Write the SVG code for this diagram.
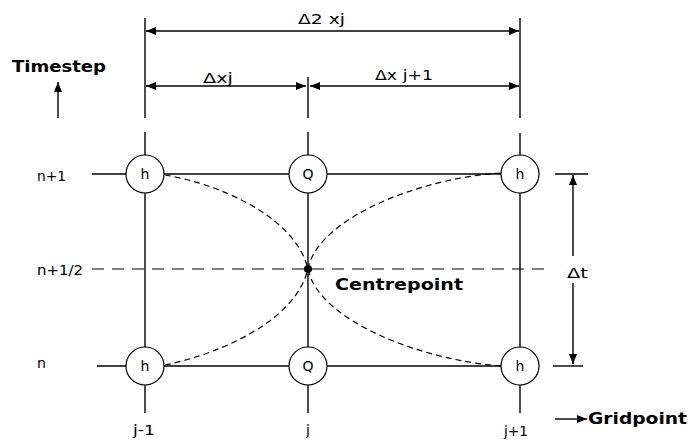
<svg xmlns="http://www.w3.org/2000/svg" width="690" height="442" viewBox="0 0 690 442">
<defs>
<marker id="ah" viewBox="0 0 10 8" refX="10" refY="4" markerWidth="10" markerHeight="8" markerUnits="userSpaceOnUse" orient="auto-start-reverse">
<path d="M0,0 L10,4 L0,8 Z" fill="#000"/>
</marker>
</defs>
<style>
.ln{stroke:#000;stroke-width:1.4;fill:none}
.ds{stroke:#000;stroke-width:1.2;fill:none;stroke-dasharray:6,4}
.dd{stroke:#000;stroke-width:1.2;fill:none;stroke-dasharray:12,8}
.nd{fill:#fff;stroke:#000;stroke-width:1.2}
.t{font-family:"DejaVu Sans",Verdana,sans-serif;font-size:14px;fill:#000}
.b{font-family:"DejaVu Sans",Verdana,sans-serif;font-size:16px;font-weight:bold;fill:#000}
.nt{font-family:"DejaVu Sans",Verdana,sans-serif;font-size:14px;fill:#000;text-anchor:middle}
</style>
<rect width="690" height="442" fill="#fff"/>
<g id="connectors">
<line class="ln" x1="145" y1="18" x2="145" y2="118"/>
<line class="ln" x1="520" y1="18" x2="520" y2="118"/>
<line class="ln" x1="308" y1="77" x2="308" y2="118"/>
<line class="ln" x1="146" y1="31" x2="519" y2="31" marker-start="url(#ah)" marker-end="url(#ah)"/>
<line class="ln" x1="146" y1="86" x2="306" y2="86" marker-start="url(#ah)" marker-end="url(#ah)"/>
<line class="ln" x1="310" y1="86" x2="519" y2="86" marker-start="url(#ah)" marker-end="url(#ah)"/>
<line class="ln" x1="58" y1="118" x2="58" y2="82" marker-end="url(#ah)"/>
<line class="ln" x1="555" y1="419" x2="587" y2="419" marker-end="url(#ah)"/>
<line class="ln" x1="145" y1="132" x2="145" y2="413"/>
<line class="ln" x1="308" y1="132" x2="308" y2="413"/>
<line class="ln" x1="520" y1="133" x2="520" y2="413"/>
<line class="ln" x1="92" y1="174" x2="520" y2="174"/>
<line class="ln" x1="97" y1="366" x2="520" y2="366"/>
<line class="ln" x1="555" y1="174" x2="588" y2="174"/>
<line class="ln" x1="553" y1="366" x2="583" y2="366"/>
<line class="dd" x1="92" y1="269" x2="545" y2="269"/>
<line class="ln" x1="573" y1="175" x2="573" y2="256" marker-start="url(#ah)"/>
<line class="ln" x1="573" y1="283" x2="573" y2="364" marker-end="url(#ah)"/>
<path class="ds" d="M165,175 C215,183 295,215 308,269 C318,320 420,360 501,366"/>
<path class="ds" d="M165,365 C215,355 295,323 308,269 C318,218 420,178 501,173"/>
</g>
<g id="centre"><circle cx="308" cy="269" r="4" fill="#000"/></g>
<g id="h-left-top"><circle class="nd" cx="145" cy="174" r="19"/><text class="nt" x="145" y="179">h</text></g>
<g id="q-top"><circle class="nd" cx="308" cy="174" r="19"/><text class="nt" x="308" y="179">Q</text></g>
<g id="h-right-top"><circle class="nd" cx="520" cy="174" r="19"/><text class="nt" x="520" y="179">h</text></g>
<g id="h-left-bot"><circle class="nd" cx="145" cy="366" r="19"/><text class="nt" x="145" y="371">h</text></g>
<g id="q-bot"><circle class="nd" cx="308" cy="366" r="19"/><text class="nt" x="308" y="371">Q</text></g>
<g id="h-right-bot"><circle class="nd" cx="520" cy="366" r="19"/><text class="nt" x="520" y="371">h</text></g>
<g id="labels">
<text class="b" x="12" y="72" textLength="94" lengthAdjust="spacingAndGlyphs">Timestep</text>
<text class="b" x="335" y="290" textLength="128" lengthAdjust="spacingAndGlyphs">Centrepoint</text>
<text class="b" x="588" y="424" textLength="99" lengthAdjust="spacingAndGlyphs">Gridpoint</text>
<text class="t" x="298" y="24" textLength="47" lengthAdjust="spacingAndGlyphs">Δ2 xj</text>
<text class="t" x="203" y="83" textLength="30" lengthAdjust="spacingAndGlyphs">Δxj</text>
<text class="t" x="375" y="80" textLength="58" lengthAdjust="spacingAndGlyphs">Δx j+1</text>
<text class="t" x="567" y="278" textLength="21" lengthAdjust="spacingAndGlyphs">Δt</text>
<text class="t" x="37" y="181" textLength="29" lengthAdjust="spacingAndGlyphs">n+1</text>
<text class="t" x="37" y="275" textLength="46" lengthAdjust="spacingAndGlyphs">n+1/2</text>
<text class="t" x="37" y="368">n</text>
<text class="t" x="133" y="435" textLength="22" lengthAdjust="spacingAndGlyphs">j-1</text>
<text class="t" x="308" y="435" text-anchor="middle">j</text>
<text class="t" x="504" y="436" textLength="24" lengthAdjust="spacingAndGlyphs">j+1</text>
</g>
</svg>
